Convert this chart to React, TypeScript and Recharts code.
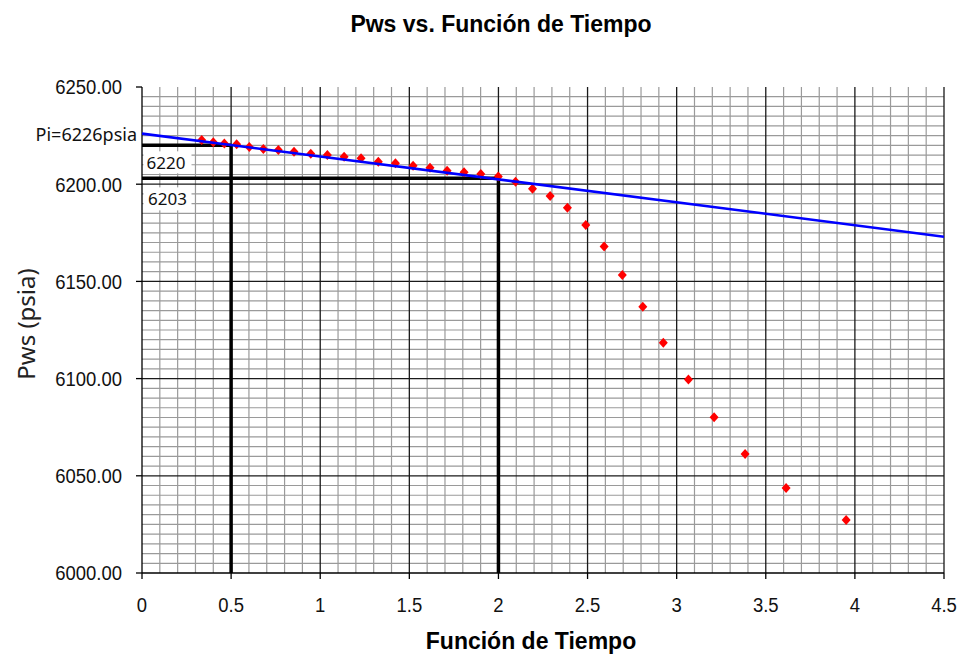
import React from "react";
import { ScatterChart, Scatter, XAxis, YAxis, ReferenceLine, ReferenceDot } from "recharts";

// Data
const funcionTiempo = [0.335, 0.4, 0.462, 0.531, 0.602, 0.681, 0.765, 0.853, 0.947, 1.04, 1.134, 1.229, 1.326, 1.422, 1.521, 1.616, 1.712, 1.807, 1.901, 1.999, 2.096, 2.191, 2.29, 2.387, 2.49, 2.593, 2.695, 2.81, 2.925, 3.066, 3.21, 3.384, 3.614, 3.951];
const pwsValues = [6222.7, 6221.6, 6221.0, 6220.5, 6219.1, 6218.1, 6217.6, 6216.7, 6215.7, 6215.0, 6214.1, 6213.3, 6211.6, 6210.8, 6209.5, 6208.5, 6206.9, 6206.1, 6205.2, 6203.9, 6201.2, 6197.7, 6193.9, 6187.9, 6179.0, 6167.9, 6153.3, 6137.0, 6118.5, 6099.6, 6080.1, 6061.2, 6043.7, 6027.3];
const trendX = [0, 4.5];
const trendY = [6226, 6173];
const xTicks = [0, 0.5, 1, 1.5, 2, 2.5, 3, 3.5, 4, 4.5];
const yTicks = [6000, 6050, 6100, 6150, 6200, 6250];
const piValue = 6226;
const p1 = { x: 0.5, y: 6220, label: "6220" };
const p2 = { x: 2, y: 6203, label: "6203" };

const points = funcionTiempo.map((x, i) => ({ x, y: pwsValues[i] }));
const trend = trendX.map((x, i) => ({ x, y: trendY[i] }));

// grid positions
const minorX: number[] = [];
for (let i = 1; i < 45; i++) if (i % 5 !== 0) minorX.push(Math.round(i * 10) / 100);
const majorX = [0.5, 1, 1.5, 2, 2.5, 3, 3.5, 4, 4.5];
const minorY: number[] = [];
for (let v = 6005; v < 6250; v += 5) if (v % 50 !== 0) minorY.push(v);
const majorY = [6050, 6100, 6150, 6200];

const W = 967;
const H = 658;
const tickFont = "'Liberation Sans', Arial, sans-serif";
const labelFont = "'Noto Sans', 'Open Sans', sans-serif";

const Diamond = (props: any) => {
  const { cx, cy } = props;
  if (cx == null || cy == null) return null;
  return <polygon points={`${cx},${cy - 5} ${cx + 4.5},${cy} ${cx},${cy + 5} ${cx - 4.5},${cy}`} fill="#ff0000" />;
};

const NoShape = () => null;

const NarrowTick = (props: any) => {
  const { x, y, payload, textAnchor, tickFormatter, axis } = props;
  const label = tickFormatter ? tickFormatter(payload.value) : String(payload.value);
  const isY = axis === "y";
  return (
    <g transform={`translate(${x},${y}) scale(0.88,1)`}>
      <text
        x={0}
        y={0}
        dy={isY ? "0.355em" : "0.71em"}
        textAnchor={isY ? "end" : "middle"}
        fontFamily={tickFont}
        fontSize={21}
        fill="#111"
      >
        {label}
      </text>
    </g>
  );
};

export default function App() {
  return (
    <div style={{ position: "absolute", left: 0, top: 0, width: W, height: H, background: "#fff" }}>
      <ScatterChart width={W} height={H} margin={{ top: 87, right: 23, bottom: 35, left: 0 }}>
        <XAxis
          type="number"
          dataKey="x"
          domain={[0, 4.5]}
          ticks={xTicks}
          height={50}
          tickSize={6}
          tickMargin={18}
          axisLine={{ stroke: "#000", strokeWidth: 1.3 }}
          tickLine={{ stroke: "#000", strokeWidth: 1.3 }}
          tick={<NarrowTick axis="x" />}
          allowDataOverflow
          label={{
            content: (p: any) => {
              const vb = p.viewBox;
              return (
                <text x={vb.x + vb.width / 2 - 12} y={641} textAnchor="middle" dominantBaseline="central" fontFamily="'Liberation Sans', Arial, sans-serif" fontWeight="bold" fontSize={23} fill="#000">
                  Función de Tiempo
                </text>
              );
            },
          }}
        />
        <YAxis
          type="number"
          dataKey="y"
          domain={[6000, 6250]}
          ticks={yTicks}
          width={142}
          tickSize={6}
          tickMargin={14}
          tickFormatter={(v: number) => v.toFixed(2)}
          axisLine={{ stroke: "#000", strokeWidth: 1.3 }}
          tickLine={{ stroke: "#000", strokeWidth: 1.3 }}
          tick={<NarrowTick axis="y" tickFormatter={(v: number) => v.toFixed(2)} />}
          allowDataOverflow
          label={{
            content: (p: any) => {
              const vb = p.viewBox;
              const cx = 25;
              const cy = vb.y + vb.height / 2 - 6;
              return (
                <text x={cx} y={cy} transform={`rotate(-90, ${cx}, ${cy})`} textAnchor="middle" dominantBaseline="central" fontFamily={labelFont} fontSize={24} fill="#222">
                  Pws (psia)
                </text>
              );
            },
          }}
        />
        {minorX.map((v) => (
          <ReferenceLine key={`mx${v}`} x={v} stroke="#9a9a9a" strokeWidth={1.2} />
        ))}
        {minorY.map((v) => (
          <ReferenceLine key={`my${v}`} y={v} stroke="#9a9a9a" strokeWidth={1.2} />
        ))}
        {majorX.map((v) => (
          <ReferenceLine key={`Mx${v}`} x={v} stroke="#1a1a1a" strokeWidth={1.3} />
        ))}
        {majorY.map((v) => (
          <ReferenceLine key={`My${v}`} y={v} stroke="#1a1a1a" strokeWidth={1.3} />
        ))}
        <ReferenceLine segment={[{ x: 0, y: p1.y }, { x: p1.x, y: p1.y }]} stroke="#000" strokeWidth={3.5} />
        <ReferenceLine segment={[{ x: p1.x, y: p1.y }, { x: p1.x, y: 6000 }]} stroke="#000" strokeWidth={3.5} />
        <ReferenceLine segment={[{ x: 0, y: p2.y }, { x: p2.x, y: p2.y }]} stroke="#000" strokeWidth={3.5} />
        <ReferenceLine segment={[{ x: p2.x, y: p2.y }, { x: p2.x, y: 6000 }]} stroke="#000" strokeWidth={3.5} />
        <ReferenceDot
          x={0}
          y={p1.y}
          r={0}
          ifOverflow="visible"
          label={{
            content: (p: any) => {
              const vb = p.viewBox;
              const x = vb.x + vb.width / 2;
              const y = vb.y + vb.height / 2;
              return (
                <g>
                  <rect x={x + 1.5} y={y + 6} width={48} height={22} fill="#fff" />
                  <text x={x + 4.5} y={y + 17.5} dominantBaseline="central" fontFamily={labelFont} fontSize={17} fill="#111">
                    {p1.label}
                  </text>
                </g>
              );
            },
          }}
        />
        <ReferenceDot
          x={0}
          y={p2.y}
          r={0}
          ifOverflow="visible"
          label={{
            content: (p: any) => {
              const vb = p.viewBox;
              const x = vb.x + vb.width / 2;
              const y = vb.y + vb.height / 2;
              return (
                <g>
                  <rect x={x + 1.5} y={y + 9} width={48} height={23} fill="#fff" />
                  <text x={x + 6} y={y + 20.5} dominantBaseline="central" fontFamily={labelFont} fontSize={17} fill="#111">
                    {p2.label}
                  </text>
                </g>
              );
            },
          }}
        />
        <ReferenceDot
          x={0}
          y={piValue}
          r={0}
          ifOverflow="visible"
          label={{
            content: (p: any) => {
              const vb = p.viewBox;
              const x = vb.x + vb.width / 2;
              const y = vb.y + vb.height / 2;
              return (
                <text x={x - 5} y={y} textAnchor="end" dominantBaseline="central" fontFamily={labelFont} fontSize={18} fill="#111">
                  {`Pi=${piValue}psia`}
                </text>
              );
            },
          }}
        />
        <Scatter data={points} shape={<Diamond />} isAnimationActive={false} />
        <Scatter data={trend} line={{ stroke: "#0000ff", strokeWidth: 2.6 }} lineType="joint" shape={<NoShape />} isAnimationActive={false} />
        <text x={501} y={24} textAnchor="middle" dominantBaseline="central" fontFamily="'Liberation Sans', Arial, sans-serif" fontWeight="bold" fontSize={23} fill="#000">
          Pws vs. Función de Tiempo
        </text>
      </ScatterChart>
    </div>
  );
}
